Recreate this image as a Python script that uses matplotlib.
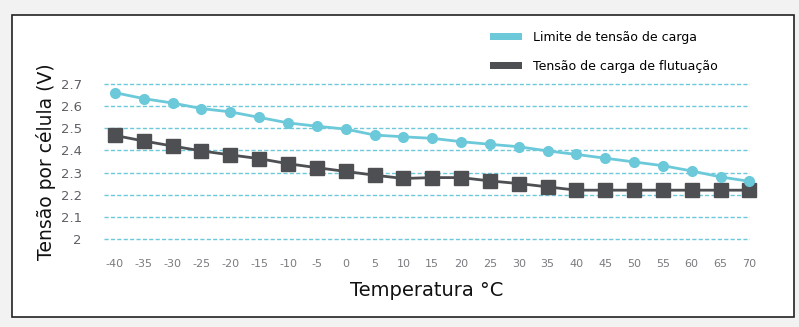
import matplotlib.pyplot as plt
from matplotlib.patches import Rectangle, Patch

# temperature (°C) and voltage per cell (V)
temps = [-40, -35, -30, -25, -20, -15, -10, -5, 0, 5, 10, 15, 20,
         25, 30, 35, 40, 45, 50, 55, 60, 65, 70]
limite = [2.662, 2.635, 2.615, 2.59, 2.575, 2.55, 2.525, 2.51, 2.497,
          2.47, 2.462, 2.455, 2.44, 2.428, 2.417, 2.398, 2.382, 2.365,
          2.348, 2.331, 2.307, 2.28, 2.26]
flutuacao = [2.468, 2.443, 2.42, 2.398, 2.38, 2.363, 2.34, 2.322, 2.305,
             2.288, 2.273, 2.277, 2.277, 2.262, 2.25, 2.235, 2.22, 2.22,
             2.22, 2.22, 2.22, 2.22, 2.22]
yticks = [2, 2.1, 2.2, 2.3, 2.4, 2.5, 2.6, 2.7]
ytick_labels = ["2", "2.1", "2.2", "2.3", "2.4", "2.5", "2.6", "2.7"]

cyan = "#6cc9da"
dark = "#4d4f53"

W, H = 799, 327
fig = plt.figure(figsize=(W / 100, H / 100), dpi=100)
fig.patch.set_facecolor("#f2f2f2")

# white frame with black border
fig.add_artist(Rectangle((12 / W, 1 - 317 / H), 782 / W, 302 / H,
                         transform=fig.transFigure, facecolor="white",
                         edgecolor="#222222", linewidth=1.2, zorder=0))

left, right = 104, 750
top, bottom = 82.1, 240.9
ax = fig.add_axes([left / W, 1 - bottom / H, (right - left) / W, (bottom - top) / H])
ax.set_facecolor("none")
ax.set_xlim(-41.9, 70.1)
ax.set_ylim(1.99, 2.71)

for y in yticks:
    ax.axhline(y, color=cyan, linewidth=1.0, linestyle=(0, (3, 1.6)), zorder=1)

ax.plot(temps, limite, color=cyan, linewidth=2, marker="o", markersize=7,
        clip_on=False, zorder=3)
ax.plot(temps, flutuacao, color=dark, linewidth=2, marker="s", markersize=10,
        clip_on=False, zorder=2)

for s in ax.spines.values():
    s.set_visible(False)
ax.tick_params(length=0)
ax.set_yticks(yticks)
ax.set_yticklabels(ytick_labels)
ax.set_xticks(temps)
ax.set_xticklabels([str(t) for t in temps])
ax.tick_params(axis="y", pad=16, labelsize=9.5, labelcolor="#5f6066")
ax.tick_params(axis="x", pad=13, labelsize=8, labelcolor="#7a7b80")

ax.set_ylabel("Tensão por célula (V)", fontsize=13.5, color="#111111", labelpad=3)
ax.set_xlabel("Temperatura °C", fontsize=14, color="#111111", labelpad=9)

handles = [Patch(facecolor=cyan), Patch(facecolor=dark)]
leg = fig.legend(handles, ["Limite de tensão de carga", "Tensão de carga de flutuação"],
                 loc="upper left", bbox_to_anchor=(479 / W, 1 - 20 / H),
                 frameon=False, fontsize=9, handlelength=2.5, handleheight=0.5,
                 labelspacing=1.25, handletextpad=0.9)

fig.savefig("out.png", dpi=100, facecolor=fig.get_facecolor())
